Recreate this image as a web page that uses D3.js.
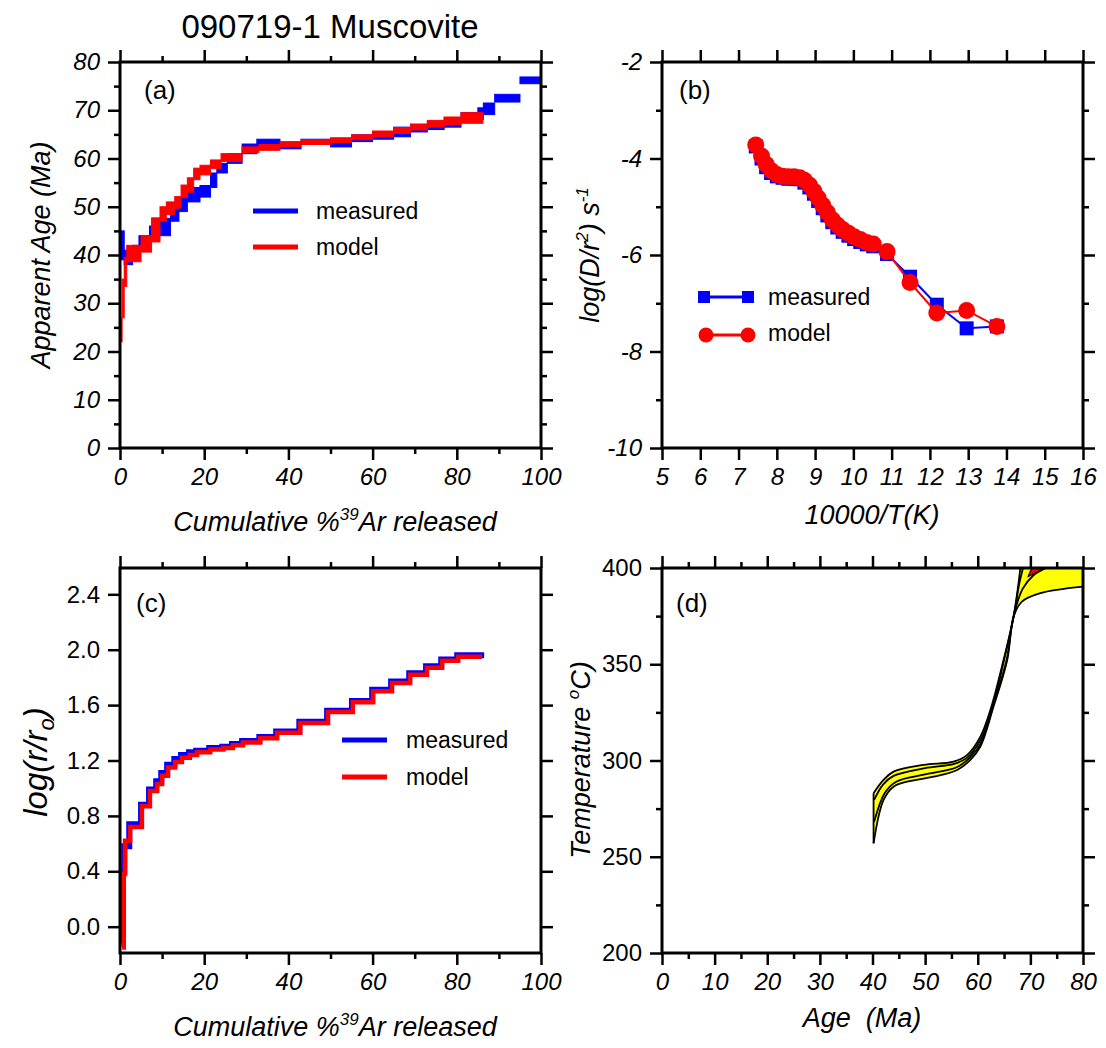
<!DOCTYPE html>
<html>
<head>
<meta charset="utf-8">
<script src="https://cdn.jsdelivr.net/npm/d3@7"></script>
<style>
  body { margin: 0; background: #fff; }
  svg text { font-family: "Liberation Sans", Arial, sans-serif; fill: #000; }
</style>
</head>
<body>
<svg id="chart" width="1106" height="1048"></svg>
<script>
// ---------------- (a) age spectrum: step boundaries (cumulative %39Ar), ages and errors (Ma)
const specMeasuredCum = [0, 1, 3, 4.5, 7, 9.5, 12, 14, 16, 19, 21.5, 23, 25.5, 29, 32.5, 38, 43, 50, 55, 60, 65, 69, 73, 77, 81, 85, 86.3, 89, 95, 100];
const specMeasuredAge = [42, 39.5, 40.5, 42.8, 45, 45.8, 48.5, 50.5, 52.5, 53.2, 55.5, 58, 60, 62, 63.2, 62.5, 63.5, 63.2, 64.2, 64.8, 65.5, 66.3, 66.8, 67.5, 68.5, 69.3, 70.3, 72.5, 76.2];
const specMeasuredErr = [3, 1.5, 1.5, 1.2, 1, 1.8, 1.5, 1.5, 1.5, 1.2, 1.5, 1, 1, 1, 0.8, 0.5, 0.5, 0.8, 0.7, 0.8, 1, 0.8, 0.8, 1, 1, 1.2, 1.2, 0.8, 0.7];

const specModelCum = [0, 0.5, 1, 1.6, 3, 5, 7.5, 9.5, 11, 13, 14.5, 16, 17.5, 19, 21.5, 24, 29, 33, 38, 43, 50, 55, 60, 65, 69, 73, 77, 81, 86.2];
const specModelAge = [24.5, 31, 36.5, 40.3, 40.3, 42.3, 45.2, 48.5, 49.7, 50.9, 53.2, 54.5, 56.8, 57.6, 58.8, 60.2, 61.8, 62.3, 63, 63.4, 63.8, 64.4, 65.1, 65.8, 66.5, 67.2, 67.8, 68.4];
const specModelErr = [2.5, 4, 3, 1.7, 1.7, 1.7, 2.5, 1.5, 1.3, 1.2, 1.3, 1.5, 1.2, 1, 0.9, 0.8, 0.6, 0.6, 0.5, 0.5, 0.5, 0.5, 0.6, 0.6, 0.6, 0.7, 0.8, 1.1];

// ---------------- (b) Arrhenius plot
const arrInvT     = [7.45, 7.6, 7.72, 7.85, 8.0, 8.15, 8.3, 8.45, 8.6, 8.72, 8.85, 8.97, 9.08, 9.2, 9.32, 9.45, 9.58, 9.72, 9.87, 10.02, 10.18, 10.35, 10.52, 10.88, 11.48, 12.18, 12.96, 13.75];
const arrMeasured = [-3.75, -4.0, -4.18, -4.3, -4.37, -4.4, -4.42, -4.42, -4.43, -4.5, -4.6, -4.73, -4.88, -5.03, -5.18, -5.32, -5.43, -5.52, -5.6, -5.67, -5.73, -5.78, -5.82, -5.98, -6.45, -7.03, -7.52, -7.48];
const arrModel    = [-3.72, -3.95, -4.12, -4.25, -4.33, -4.37, -4.38, -4.38, -4.4, -4.45, -4.55, -4.68, -4.82, -4.97, -5.12, -5.27, -5.38, -5.47, -5.55, -5.62, -5.68, -5.74, -5.77, -5.93, -6.57, -7.2, -7.15, -7.48];

// ---------------- (c) log(r/r0) plot: step boundaries and values
const logrMeasuredCum = [0.4, 0.7, 1.0, 2.2, 5.0, 6.9, 8.6, 9.8, 11.2, 12.9, 14.5, 16.4, 18.1, 21.2, 24.3, 26.6, 29.0, 33.1, 37.1, 42.6, 49.2, 55.1, 59.9, 64.4, 68.7, 72.7, 76.3, 80.1, 86.5];
const logrMeasured    = [-0.12, 0.4, 0.58, 0.74, 0.88, 0.99, 1.05, 1.11, 1.17, 1.21, 1.24, 1.26, 1.27, 1.29, 1.30, 1.32, 1.34, 1.37, 1.41, 1.48, 1.56, 1.63, 1.71, 1.77, 1.83, 1.88, 1.93, 1.96];
const logrModelCum    = [0.5, 0.9, 1.2, 2.4, 5.2, 7.1, 8.8, 10.0, 11.4, 13.1, 14.7, 16.6, 18.3, 21.4, 24.5, 26.8, 29.2, 33.3, 37.3, 42.8, 49.4, 55.3, 60.1, 64.6, 68.9, 72.9, 76.5, 80.3, 86.0];
const logrModel       = [-0.15, 0.38, 0.62, 0.72, 0.87, 0.98, 1.03, 1.09, 1.15, 1.19, 1.22, 1.24, 1.26, 1.28, 1.29, 1.31, 1.33, 1.36, 1.40, 1.47, 1.55, 1.62, 1.70, 1.76, 1.82, 1.87, 1.92, 1.95];

// ---------------- (d) thermal history envelopes (age Ma, temperature C)
const outerUpperAge = [40.2, 42.1, 44.0, 49.7, 55.4, 58.0, 60.5, 62.4, 64.9, 66.8, 68.1];
const outerUpperT   = [283, 289.9, 294.2, 297.7, 299.4, 302.9, 312.4, 326.2, 352.2, 374.7, 400];
const outerLowerAge = [40.2, 42.1, 44.0, 46.6, 51.6, 56.1, 58.6, 60.5, 63.0, 65.6, 66.8, 68.4, 71.9, 80];
const outerLowerT   = [257, 279.5, 286.4, 289.0, 291.6, 295.1, 300.3, 307.2, 328.0, 352.2, 374.7, 382.5, 386.9, 390.3];
const innerUpperAge = [40.3, 42.0, 44.0, 50.0, 55.5, 58.0, 60.5, 62.5, 64.9, 66.8, 67.9, 68.6];
const innerUpperT   = [279.5, 287.5, 292.0, 296.0, 298.2, 301.5, 310.5, 324.5, 351.0, 374.5, 392.0, 400];
const innerLowerAge = [40.3, 42.3, 44.5, 50.0, 56.0, 58.5, 60.5, 63.0, 65.5, 66.8, 68.5, 70.5, 73.0];
const innerLowerT   = [268, 283, 289, 292.8, 296.5, 301.5, 308.5, 329, 352.5, 374.7, 389, 396, 400];
const bestFitAge    = [69.6, 70.5, 72.6, 71.0];
const bestFitT      = [395.6, 400, 400, 397.6];

// ---------------- tick values
const ticksA_x = [0, 20, 40, 60, 80, 100], ticksA_xMinor = [10, 30, 50, 70, 90];
const ticksA_y = [0, 10, 20, 30, 40, 50, 60, 70, 80], ticksA_yMinor = [5, 15, 25, 35, 45, 55, 65, 75];
const ticksB_x = [5, 6, 7, 8, 9, 10, 11, 12, 13, 14, 15, 16];
const ticksB_y = [-10, -8, -6, -4, -2], ticksB_yMinor = [-9, -7, -5, -3];
const ticksC_x = [0, 20, 40, 60, 80, 100], ticksC_xMinor = [10, 30, 50, 70, 90];
const ticksC_y = [0.0, 0.4, 0.8, 1.2, 1.6, 2.0, 2.4];
const ticksD_x = [0, 10, 20, 30, 40, 50, 60, 70, 80], ticksD_xMinor = [5, 15, 25, 35, 45, 55, 65, 75];
const ticksD_y = [200, 250, 300, 350, 400], ticksD_yMinor = [225, 275, 325, 375];

const BLUE = '#0000ff', RED = '#ff0000', YELLOW = '#ffff00';
const svg = d3.select('#chart');

const boxA = {x: 120, y: 62, w: 421, h: 386};
const boxB = {x: 662, y: 62, w: 421, h: 386};
const boxC = {x: 120, y: 568, w: 421, h: 385};
const boxD = {x: 662, y: 568, w: 421, h: 385};

function panelGroup(box) {
  return svg.append('g').attr('transform', `translate(${box.x},${box.y})`);
}

// outward ticks on all four sides, labels on bottom and left
function drawFrame(g, box, x, y, o) {
  const add = (axis, values, size, tf, fmt, italic) => {
    const a = g.append('g').attr('transform', tf || null)
      .call(axis.tickValues(values).tickSize(size).tickSizeOuter(0).tickPadding(8)
        .tickFormat(fmt || (() => '')));
    a.select('.domain').remove();
    a.selectAll('.tick line').attr('stroke', '#000').attr('stroke-width', 2.5);
    a.selectAll('.tick text').attr('font-size', 24)
      .attr('font-family', '"Liberation Sans", Arial, sans-serif')
      .attr('font-style', italic ? 'italic' : 'normal').attr('fill', '#000');
    return a;
  };
  const bottom = `translate(0,${box.h})`, right = `translate(${box.w},0)`;
  add(d3.axisBottom(x), o.xMajor, 12, bottom, o.xFmt, o.xItalic);
  add(d3.axisTop(x), o.xMajor, 12);
  if (o.xMinor) { add(d3.axisBottom(x), o.xMinor, 6, bottom); add(d3.axisTop(x), o.xMinor, 6); }
  add(d3.axisLeft(y), o.yMajor, 12, null, o.yFmt, o.yItalic);
  add(d3.axisRight(y), o.yMajor, 12, right);
  if (o.yMinor) { add(d3.axisLeft(y), o.yMinor, 6); add(d3.axisRight(y), o.yMinor, 6, right); }
  g.append('rect').attr('width', box.w).attr('height', box.h)
    .attr('fill', 'none').attr('stroke', '#000').attr('stroke-width', 3);
}

function panelLabel(g, txt, x, y) {
  g.append('text').attr('x', x).attr('y', y).attr('font-size', 26).text(txt);
}

function lineLegend(g, items, x0, x1, tx) {
  items.forEach(it => {
    g.append('line').attr('x1', x0).attr('x2', x1).attr('y1', it.y).attr('y2', it.y)
      .attr('stroke', it.color).attr('stroke-width', 5);
    g.append('text').attr('x', tx).attr('y', it.y + 8).attr('font-size', 23).text(it.label);
  });
}

// x-axis title with superscripted mass number
function cumTitle(cx, by) {
  const t = svg.append('text').attr('x', cx).attr('y', by).attr('text-anchor', 'middle')
    .attr('font-size', 27).attr('font-style', 'italic');
  t.append('tspan').text('Cumulative %');
  t.append('tspan').attr('font-size', 17).attr('dy', -11).text('39');
  t.append('tspan').attr('dy', 11).text('Ar released');
}

// ================= (a)
{
  const g = panelGroup(boxA);
  const x = d3.scaleLinear().domain([0, 100]).range([0, boxA.w]);
  const y = d3.scaleLinear().domain([0, 80]).range([boxA.h, 0]);
  const boxes = (cum, age, err, color) => {
    g.append('g').selectAll('rect').data(age).join('rect')
      .attr('x', (d, i) => x(cum[i]))
      .attr('width', (d, i) => Math.max(1, x(cum[i + 1]) - x(cum[i])))
      .attr('y', (d, i) => y(d + err[i]))
      .attr('height', (d, i) => y(d - err[i]) - y(d + err[i]))
      .attr('fill', color).attr('stroke', color).attr('stroke-width', 1);
  };
  boxes(specMeasuredCum, specMeasuredAge, specMeasuredErr, BLUE);
  boxes(specModelCum, specModelAge, specModelErr, RED);
  panelLabel(g, '(a)', 24, 37);
  lineLegend(g, [{y: 149, color: BLUE, label: 'measured'}, {y: 185, color: RED, label: 'model'}], 133, 178, 196);
  drawFrame(g, boxA, x, y, {xMajor: ticksA_x, xMinor: ticksA_xMinor, yMajor: ticksA_y, yMinor: ticksA_yMinor,
    xFmt: d => String(d), yFmt: d => String(d), xItalic: true, yItalic: true});
  svg.append('text').attr('transform', 'translate(50,255) rotate(-90)').attr('text-anchor', 'middle')
    .attr('font-size', 27).attr('font-style', 'italic').text('Apparent Age (Ma)');
  cumTitle(335, 531);
}

// ================= (b)
{
  const g = panelGroup(boxB);
  const x = d3.scaleLinear().domain([5, 16]).range([0, boxB.w]);
  const y = d3.scaleLinear().domain([-10, -2]).range([boxB.h, 0]);
  const line = d3.line().x(d => x(d[0])).y(d => y(d[1]));
  const meas = arrInvT.map((v, i) => [v, arrMeasured[i]]);
  const mod = arrInvT.map((v, i) => [v, arrModel[i]]);
  g.append('path').attr('d', line(meas)).attr('fill', 'none').attr('stroke', BLUE).attr('stroke-width', 2);
  g.append('g').selectAll('rect').data(meas).join('rect')
    .attr('x', d => x(d[0]) - 7).attr('y', d => y(d[1]) - 7).attr('width', 14).attr('height', 14).attr('fill', BLUE);
  g.append('path').attr('d', line(mod)).attr('fill', 'none').attr('stroke', RED).attr('stroke-width', 2);
  g.append('g').selectAll('circle').data(mod).join('circle')
    .attr('cx', d => x(d[0])).attr('cy', d => y(d[1])).attr('r', 8.5).attr('fill', RED);
  panelLabel(g, '(b)', 17, 37);
  // legend
  const lg = g.append('g');
  lg.append('line').attr('x1', 42).attr('x2', 86).attr('y1', 235).attr('y2', 235).attr('stroke', BLUE).attr('stroke-width', 3);
  [42, 86].forEach(cx => lg.append('rect').attr('x', cx - 6).attr('y', 229).attr('width', 12).attr('height', 12).attr('fill', BLUE));
  lg.append('text').attr('x', 106).attr('y', 243).attr('font-size', 23).text('measured');
  lg.append('line').attr('x1', 44).attr('x2', 86).attr('y1', 273).attr('y2', 273).attr('stroke', RED).attr('stroke-width', 3);
  [44, 86].forEach(cx => lg.append('circle').attr('cx', cx).attr('cy', 273).attr('r', 7.5).attr('fill', RED));
  lg.append('text').attr('x', 106).attr('y', 279).attr('font-size', 23).text('model');
  drawFrame(g, boxB, x, y, {xMajor: ticksB_x, yMajor: ticksB_y, yMinor: ticksB_yMinor,
    xFmt: d => String(d), yFmt: d => String(d), xItalic: true, yItalic: true});
  const t = svg.append('text').attr('transform', 'translate(599,255) rotate(-90)').attr('text-anchor', 'middle')
    .attr('font-size', 27).attr('font-style', 'italic');
  t.append('tspan').text('log(D/r');
  t.append('tspan').attr('font-size', 17).attr('dy', -11).text('2');
  t.append('tspan').attr('dy', 11).text(') s');
  t.append('tspan').attr('font-size', 17).attr('dy', -11).text('-1');
  svg.append('text').attr('x', 872).attr('y', 524).attr('text-anchor', 'middle')
    .attr('font-size', 27).attr('font-style', 'italic').text('10000/T(K)');
}

// ================= (c)
{
  const g = panelGroup(boxC);
  const x = d3.scaleLinear().domain([0, 100]).range([0, boxC.w]);
  const y = d3.scaleLinear().domain([-0.19, 2.59]).range([boxC.h, 0]);
  const step = d3.line().x(d => x(d[0])).y(d => y(d[1])).curve(d3.curveStepAfter);
  const pts = (cum, v) => cum.map((c, i) => [c, v[Math.min(i, v.length - 1)]]);
  g.append('path').attr('d', step(pts(logrMeasuredCum, logrMeasured))).attr('fill', 'none')
    .attr('stroke', BLUE).attr('stroke-width', 6);
  g.append('path').attr('d', step(pts(logrModelCum, logrModel))).attr('fill', 'none')
    .attr('stroke', RED).attr('stroke-width', 4.5);
  panelLabel(g, '(c)', 16, 44);
  lineLegend(g, [{y: 172, color: BLUE, label: 'measured'}, {y: 209, color: RED, label: 'model'}], 222, 267, 286);
  drawFrame(g, boxC, x, y, {xMajor: ticksC_x, xMinor: ticksC_xMinor, yMajor: ticksC_y,
    xFmt: d => String(d), yFmt: d => d.toFixed(1), xItalic: true, yItalic: false});
  const t = svg.append('text').attr('transform', 'translate(47,762) rotate(-90)').attr('text-anchor', 'middle')
    .attr('font-size', 33).attr('font-style', 'italic');
  t.append('tspan').text('log(r/r');
  t.append('tspan').attr('font-size', 22).attr('dy', 7).text('o');
  t.append('tspan').attr('dy', -7).text(')');
  cumTitle(335, 1036);
}

// ================= (d)
{
  const g = panelGroup(boxD);
  const x = d3.scaleLinear().domain([0, 80]).range([0, boxD.w]);
  const y = d3.scaleLinear().domain([200, 400]).range([boxD.h, 0]);
  g.append('clipPath').attr('id', 'clipD').append('rect').attr('width', boxD.w).attr('height', boxD.h);
  const cg = g.append('g').attr('clip-path', 'url(#clipD)');
  const curve = d3.line().x(d => x(d[0])).y(d => y(d[1])).curve(d3.curveCatmullRom.alpha(0.5));
  const zip = (a, t) => a.map((v, i) => [v, t[i]]);
  const oUp = zip(outerUpperAge, outerUpperT), oLo = zip(outerLowerAge, outerLowerT);
  const iUp = zip(innerUpperAge, innerUpperT), iLo = zip(innerLowerAge, innerLowerT);
  const env = curve(oUp) + `L${x(80)},${y(400)}` + curve(oLo.slice().reverse()).replace(/^M/, 'L') + 'Z';
  cg.append('path').attr('d', env).attr('fill', YELLOW).attr('stroke', 'none');
  cg.append('path').attr('d', curve(zip(bestFitAge, bestFitT)) + 'Z').attr('fill', RED)
    .attr('stroke', '#000').attr('stroke-width', 1.2);
  [oUp, oLo, iUp, iLo].forEach(p => cg.append('path').attr('d', curve(p)).attr('fill', 'none')
    .attr('stroke', '#000').attr('stroke-width', 1.8));
  cg.append('line').attr('x1', x(outerLowerAge[0])).attr('x2', x(outerUpperAge[0]))
    .attr('y1', y(outerLowerT[0])).attr('y2', y(outerUpperT[0])).attr('stroke', '#000').attr('stroke-width', 1.8);
  panelLabel(g, '(d)', 14, 44);
  drawFrame(g, boxD, x, y, {xMajor: ticksD_x, xMinor: ticksD_xMinor, yMajor: ticksD_y, yMinor: ticksD_yMinor,
    xFmt: d => String(d), yFmt: d => String(d), xItalic: true, yItalic: false});
  const t = svg.append('text').attr('transform', 'translate(590,760) rotate(-90)').attr('text-anchor', 'middle')
    .attr('font-size', 27).attr('font-style', 'italic');
  t.append('tspan').text('Temperature ');
  t.append('tspan').attr('font-size', 17).attr('dy', -11).text('o');
  t.append('tspan').attr('dy', 11).text('C)');
  svg.append('text').attr('x', 862).attr('y', 1027).attr('text-anchor', 'middle')
    .attr('font-size', 27).attr('font-style', 'italic').attr('xml:space', 'preserve').text('Age  (Ma)');
}

// title
svg.append('text').attr('x', 330).attr('y', 38).attr('text-anchor', 'middle')
  .attr('font-size', 33).text('090719-1 Muscovite');
</script>
</body>
</html>
